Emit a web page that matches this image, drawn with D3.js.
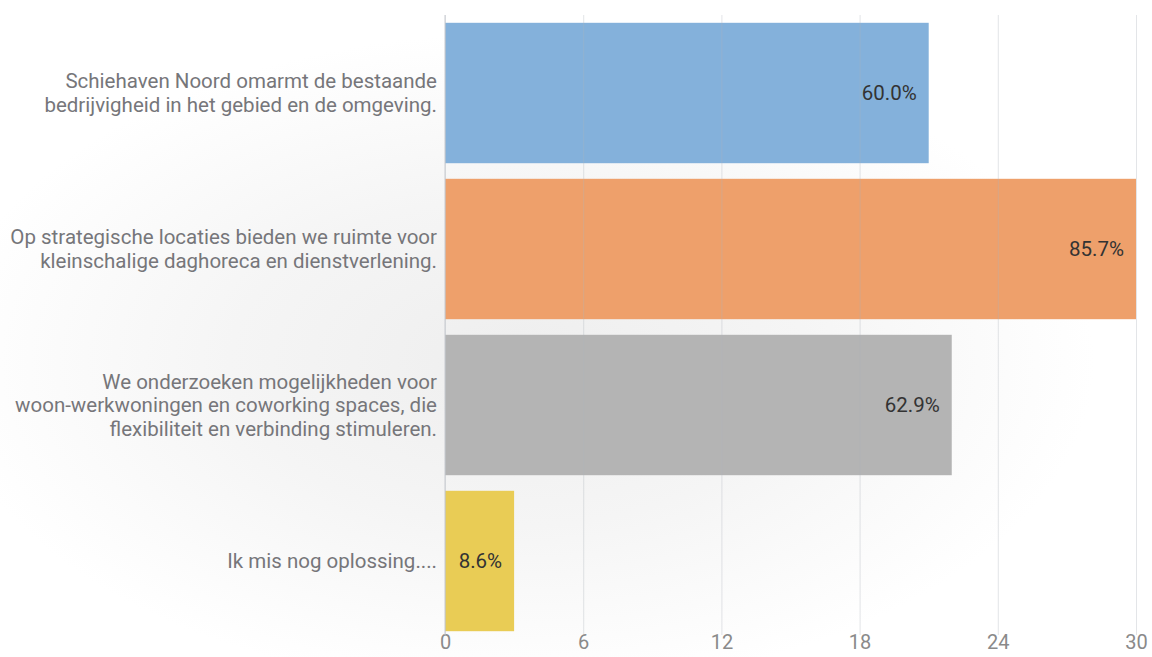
<!DOCTYPE html>
<html>
<head>
<meta charset="utf-8">
<script src="https://cdn.jsdelivr.net/npm/d3@7"></script>
<style>
  html, body { margin: 0; padding: 0; background: #fff; }
  svg { display: block; font-family: Roboto, "Noto Sans", sans-serif; }
</style>
</head>
<body>
<div id="chart"></div>
<script>
const categories = [
    ["Schiehaven Noord omarmt de bestaande", "bedrijvigheid in het gebied en de omgeving."],
    ["Op strategische locaties bieden we ruimte voor", "kleinschalige daghoreca en dienstverlening."],
    ["We onderzoeken mogelijkheden voor", "woon-werkwoningen en coworking spaces, die", "flexibiliteit en verbinding stimuleren."],
    ["Ik mis nog oplossing...."]
]
const counts = [21, 30, 22, 3]
const percents = ["60.0%", "85.7%", "62.9%", "8.6%"]
const colors = ["#84b1db", "#eea06b", "#b4b4b4", "#e9cc55"]
const xTicks = [0, 6, 12, 18, 24, 30]

const data = counts.map((c, i) => ({ lines: categories[i], count: c, pct: percents[i], color: colors[i], i: i }))

var dimension = {
    width: 1152,
    height: 657,
    margin: { top: 15, left: 445, bottom: 18, right: 16 }
};
dimension.boundedWidth = dimension.width - dimension.margin.left - dimension.margin.right
dimension.boundedHeight = dimension.height - dimension.margin.top - dimension.margin.bottom

const wrapper = d3.select("#chart")
    .append("svg")
    .attr("width", dimension.width)
    .attr("height", dimension.height);

// soft grey glow behind the chart
const grad = wrapper.append("defs").append("radialGradient")
    .attr("id", "bg")
    .attr("cx", 0.45).attr("cy", 0.55).attr("r", 0.5)
grad.append("stop").attr("offset", "0%").attr("stop-color", "#eeeeee")
grad.append("stop").attr("offset", "50%").attr("stop-color", "#f5f5f5")
grad.append("stop").attr("offset", "100%").attr("stop-color", "#ffffff")

wrapper.append("rect")
    .attr("width", dimension.width)
    .attr("height", dimension.height)
    .attr("fill", "url(#bg)")

const bounds = wrapper.append("g")
    .attr("transform", `translate(${dimension.margin.left},${dimension.margin.top})`);

const xScaler = d3.scaleLinear()
    .domain([0, 30])
    .range([0, dimension.boundedWidth])

const yScaler = d3.scaleBand()
    .domain(data.map(d => d.i))
    .range([0, dimension.boundedHeight])
    .paddingInner(0.1)
    .paddingOuter(0.05)

bounds.selectAll("rect.bar")
    .data(data)
    .enter()
    .append("rect")
    .attr("class", "bar")
    .attr("x", 0)
    .attr("y", d => yScaler(d.i))
    .attr("width", d => xScaler(d.count))
    .attr("height", yScaler.bandwidth())
    .attr("fill", d => d.color)

// grid lines on top of bars, faint
const gridBottom = dimension.boundedHeight - 4
const xAxisGen = d3.axisBottom(xScaler)
    .tickValues(xTicks)
    .tickSize(-gridBottom)
    .tickPadding(4)

const xAxis = bounds.append("g")
    .attr("transform", `translate(0,${gridBottom})`)
    .call(xAxisGen)
xAxis.select(".domain").remove()
xAxis.selectAll(".tick line")
    .attr("stroke", "#b0b4bc")
    .attr("stroke-opacity", 0.35)
xAxis.selectAll(".tick text")
    .attr("fill", "#8a8a8a")
    .attr("font-size", "20px")
    .attr("font-family", "Roboto, sans-serif")
    .attr("dy", "0.5em")

// vertical baseline
bounds.append("line")
    .attr("x1", 0).attr("x2", 0)
    .attr("y1", 0).attr("y2", gridBottom)
    .attr("stroke", "#c8cbd0")
    .attr("stroke-width", 1)

// category labels
const lineH = 23.5
const labels = bounds.selectAll("text.cat")
    .data(data)
    .enter()
    .append("text")
    .attr("class", "cat")
    .attr("text-anchor", "end")
    .attr("fill", "#76767a")
    .attr("font-size", "20.5px")
    .attr("x", -8)
labels.each(function (d) {
    const mid = yScaler(d.i) + yScaler.bandwidth() / 2
    const start = mid - (d.lines.length - 1) * lineH / 2
    d3.select(this).selectAll("tspan")
        .data(d.lines)
        .enter()
        .append("tspan")
        .attr("x", -8)
        .attr("y", (l, j) => start + j * lineH)
        .attr("dy", "0.35em")
        .text(l => l)
})

// value labels inside bars
bounds.selectAll("text.val")
    .data(data)
    .enter()
    .append("text")
    .attr("class", "val")
    .attr("x", d => xScaler(d.count) - 12)
    .attr("y", d => yScaler(d.i) + yScaler.bandwidth() / 2)
    .attr("dy", "0.35em")
    .attr("text-anchor", "end")
    .attr("fill", "#333333")
    .attr("font-size", "20.5px")
    .text(d => d.pct)
</script>
</body>
</html>
